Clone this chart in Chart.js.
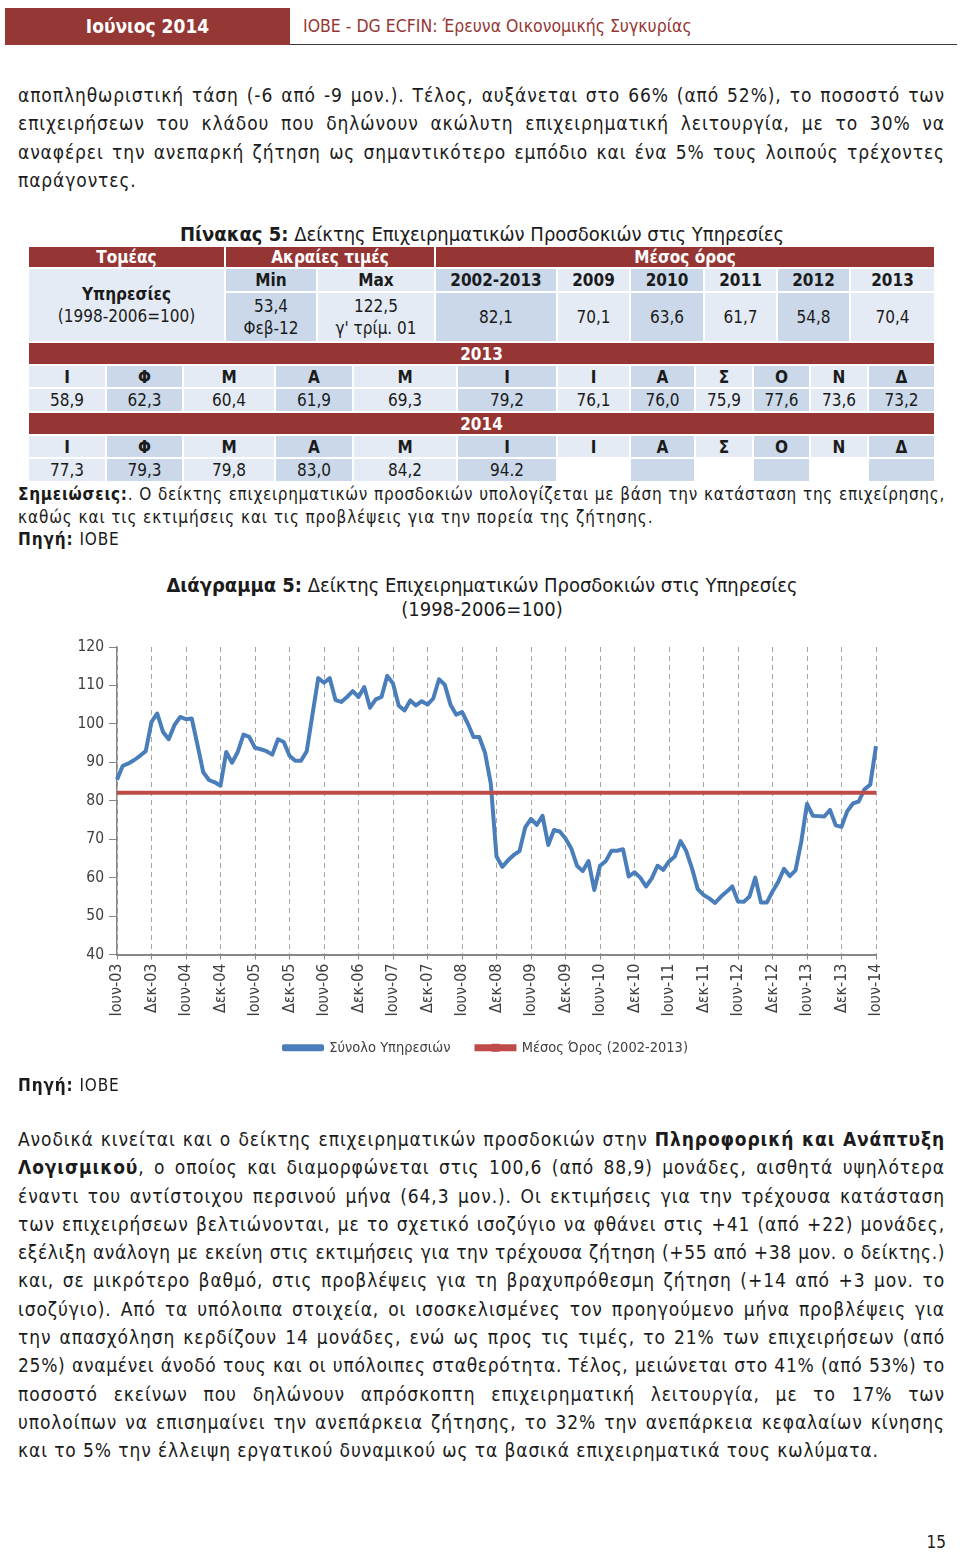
<!DOCTYPE html>
<html>
<head>
<meta charset="utf-8">
<script src="https://cdn.jsdelivr.net/npm/chart.js@4.4.1/dist/chart.umd.min.js"></script>
<style>
  body { margin: 0; background: #fff; }
  #page { position: relative; width: 960px; height: 1553px; overflow: hidden;
    font-family: "DejaVu Sans Condensed", "DejaVu Sans", sans-serif; color: #1b1b1b; }
  .abs { position: absolute; }
  .hdr { left: 5px; top: 8px; width: 285px; height: 37px; background: #953735; color: #fff;
    font-size: 19px; font-weight: bold; line-height: 37px; text-align: center; }
  .hdr2 { left: 303px; top: 8px; line-height: 37px; color: #953735; font-size: 17.5px; }
  .rule { left: 290px; top: 44px; width: 667px; height: 1px; background: #3a3a3a; }
  .para { left: 18px; width: 927px; font-size: 19px; line-height: 28.3px; }
  .line { text-align: justify; text-align-last: justify; letter-spacing: 0.9px; }
  .last { text-align: left; text-align-last: left; }
  .note { left: 18px; width: 927px; font-size: 17px; line-height: 22.5px; }
  .cell { position: absolute; box-sizing: border-box; border: 1px solid #fff; display: flex;
    align-items: center; justify-content: center; text-align: center; font-size: 17px; line-height: 22px; }
  .red { background: #963634; color: #fff; font-weight: bold; }
  .lt { background: #e4ebf5; }
  .dk { background: #cad8ea; }
  .wh { background: #fff; }
  .b { font-weight: bold; }
</style>
</head>
<body>
<div id="page">
  <div class="abs hdr">Ιούνιος 2014</div>
  <div class="abs hdr2">ΙΟΒΕ - DG ECFIN: Έρευνα Οικονομικής Συγκυρίας</div>
  <div class="abs rule"></div>

  <div class="abs para" style="top:81px">
    <div class="line">αποπληθωριστική τάση (-6 από -9 μον.). Τέλος, αυξάνεται στο 66% (από 52%), το ποσοστό των</div>
    <div class="line">επιχειρήσεων του κλάδου που δηλώνουν ακώλυτη επιχειρηματική λειτουργία, με το 30% να</div>
    <div class="line">αναφέρει την ανεπαρκή ζήτηση ως σημαντικότερο εμπόδιο και ένα 5% τους λοιπούς τρέχοντες</div>
    <div class="line last">παράγοντες.</div>
  </div>

  <div class="abs" style="left:0;top:222px;width:964px;text-align:center;font-size:20px;line-height:24px">
    <b>Πίνακας 5:</b> Δείκτης Επιχειρηματικών Προσδοκιών στις Υπηρεσίες</div>
  <div id="table"></div>

  <div class="abs note" style="top:483px">
    <div class="line"><b>Σημειώσεις:</b>. Ο δείκτης επιχειρηματικών προσδοκιών υπολογίζεται με βάση την κατάσταση της επιχείρησης,</div>
    <div class="line last">καθώς και τις εκτιμήσεις και τις προβλέψεις για την πορεία της ζήτησης.</div>
    <div class="line last"><b>Πηγή:</b> ΙΟΒΕ</div>
  </div>

  <div class="abs" style="left:0;top:573px;width:964px;text-align:center;font-size:20px;line-height:24px">
    <b>Διάγραμμα 5:</b> Δείκτης Επιχειρηματικών Προσδοκιών στις Υπηρεσίες<br>(1998-2006=100)</div>
  <div class="abs" style="left:0;top:630px;width:960px;height:449px"><canvas id="chart"></canvas></div>

  <div class="abs note" style="top:1074px"><div class="line last"><b>Πηγή:</b> ΙΟΒΕ</div></div>

  <div class="abs para" style="top:1125px">
    <div class="line">Ανοδικά κινείται και ο δείκτης επιχειρηματικών προσδοκιών στην <b>Πληροφορική και Ανάπτυξη</b></div>
    <div class="line"><b>Λογισμικού</b>, ο οποίος και διαμορφώνεται στις 100,6 (από 88,9) μονάδες, αισθητά υψηλότερα</div>
    <div class="line">έναντι του αντίστοιχου περσινού μήνα (64,3 μον.). Οι εκτιμήσεις για την τρέχουσα κατάσταση</div>
    <div class="line">των επιχειρήσεων βελτιώνονται, με το σχετικό ισοζύγιο να φθάνει στις +41 (από +22) μονάδες,</div>
    <div class="line">εξέλιξη ανάλογη με εκείνη στις εκτιμήσεις για την τρέχουσα ζήτηση (+55 από +38 μον. ο δείκτης.)</div>
    <div class="line">και, σε μικρότερο βαθμό, στις προβλέψεις για τη βραχυπρόθεσμη ζήτηση (+14 από +3 μον. το</div>
    <div class="line">ισοζύγιο). Από τα υπόλοιπα στοιχεία, οι ισοσκελισμένες τον προηγούμενο μήνα προβλέψεις για</div>
    <div class="line">την απασχόληση κερδίζουν 14 μονάδες, ενώ ως προς τις τιμές, το 21% των επιχειρήσεων (από</div>
    <div class="line">25%) αναμένει άνοδό τους και οι υπόλοιπες σταθερότητα. Τέλος, μειώνεται στο 41% (από 53%) το</div>
    <div class="line">ποσοστό εκείνων που δηλώνουν απρόσκοπτη επιχειρηματική λειτουργία, με το 17% των</div>
    <div class="line">υπολοίπων να επισημαίνει την ανεπάρκεια ζήτησης, το 32% την ανεπάρκεια κεφαλαίων κίνησης</div>
    <div class="line last">και το 5% την έλλειψη εργατικού δυναμικού ως τα βασικά επιχειρηματικά τους κωλύματα.</div>
  </div>

  <div class="abs" style="left:900px;top:1532px;width:46px;text-align:right;font-size:17px">15</div>
</div>

<script>
// δεδομένα διαγράμματος: Σύνολο Υπηρεσιών, μηνιαία (Ιουν-03 ... Ιουν-14)
const services2003 = [85.5, 89.1, 89.7, 90.6, 91.7, 92.9, 100.5];
const services2004 = [102.7, 97.9, 96.0, 99.7, 101.8, 101.2, 101.4, 94.5, 87.4, 85.4, 84.8, 83.9];
const services2005 = [92.7, 89.9, 92.7, 97.2, 96.6, 93.8, 93.4, 92.9, 92.0, 96.0, 95.3, 91.7];
const services2006 = [90.4, 90.4, 92.9, 102.5, 111.9, 110.7, 111.9, 106.2, 105.7, 107.0, 108.5, 107.0];
const services2007 = [109.6, 104.2, 106.4, 107.0, 112.5, 110.5, 104.7, 103.5, 106.1, 104.8, 105.9, 105.0];
const services2008 = [106.6, 111.6, 110.2, 105.0, 102.4, 103.1, 100.1, 96.6, 96.6, 92.5, 84.5, 65.5];
const services2009 = [62.8, 64.5, 65.9, 66.9, 73.1, 75.3, 73.7, 76.1, 68.5, 72.4, 72.0, 70.2];
const services2010 = [67.6, 63.1, 61.7, 64.3, 56.8, 63.1, 64.3, 67.0, 67.0, 67.4, 60.3, 61.4];
const services2011 = [60.0, 57.7, 59.8, 63.1, 62.0, 64.2, 65.5, 69.5, 66.9, 62.4, 57.0, 55.5];
const services2012 = [54.6, 53.4, 55.0, 56.3, 57.7, 53.8, 53.7, 55.1, 60.0, 53.5, 53.5, 56.4];
const services2013 = [58.9, 62.3, 60.4, 61.9, 69.3, 79.2, 76.1, 76.0, 75.9, 77.6, 73.6, 73.2];
const services2014 = [77.3, 79.3, 79.8, 83.0, 84.2, 94.2];

const longTermAverage = 82.1; // Μέσος Όρος (2002-2013)

// ετικέτες άξονα x (κάθε 6 μήνες)
const tickLabels = ["Ιουν-03", "Δεκ-03", "Ιουν-04", "Δεκ-04", "Ιουν-05", "Δεκ-05", "Ιουν-06", "Δεκ-06",
  "Ιουν-07", "Δεκ-07", "Ιουν-08", "Δεκ-08", "Ιουν-09", "Δεκ-09", "Ιουν-10", "Δεκ-10", "Ιουν-11",
  "Δεκ-11", "Ιουν-12", "Δεκ-12", "Ιουν-13", "Δεκ-13", "Ιουν-14"];

const seriesLabels = ["Σύνολο Υπηρεσιών", "Μέσος Όρος (2002-2013)"];

const servicesIndex = [].concat(services2003, services2004, services2005, services2006, services2007,
  services2008, services2009, services2010, services2011, services2012, services2013, services2014);
const categories = servicesIndex.map((_, i) => (i % 6 === 0 ? tickLabels[i / 6] : ""));
const averageLine = servicesIndex.map(() => longTermAverage);

//πίνακας
const cells = [];
const addCell = (x1, x2, y1, y2, html, cls) => cells.push({ x1, x2, y1, y2, html, cls });

addCell(28, 225, 246, 268, "Τομέας", "red");
addCell(225, 435, 246, 268, "Ακραίες τιμές", "red");
addCell(435, 935, 246, 268, "Μέσος όρος", "red");
addCell(28, 225, 268, 342, "<div><b>Υπηρεσίες</b><br>(1998-2006=100)</div>", "lt");

const headCols = [[225, 317, "Min", "53,4<br>Φεβ-12", "dk"], [317, 435, "Max", "122,5<br>γ' τρίμ. 01", "lt"],
  [435, 557, "2002-2013", "82,1", "dk"], [557, 630, "2009", "70,1", "lt"], [630, 704, "2010", "63,6", "dk"],
  [704, 777, "2011", "61,7", "lt"], [777, 850, "2012", "54,8", "dk"], [850, 935, "2013", "70,4", "lt"]];
headCols.forEach(([x1, x2, h, v, c]) => {
  addCell(x1, x2, 268, 292, h, c + " b");
  addCell(x1, x2, 292, 342, "<div>" + v + "</div>", c);
});

const monthEdges = [28, 106, 183, 275, 353, 457, 557, 630, 695, 753, 810, 868, 935];
const monthNames = ["Ι", "Φ", "Μ", "Α", "Μ", "Ι", "Ι", "Α", "Σ", "Ο", "Ν", "Δ"];
const table2013 = ["58,9", "62,3", "60,4", "61,9", "69,3", "79,2", "76,1", "76,0", "75,9", "77,6", "73,6", "73,2"];
const table2014 = ["77,3", "79,3", "79,8", "83,0", "84,2", "94.2", "", "", "", "", "", ""];

const yearBlock = (year, top, values) => {
  addCell(28, 935, top, top + 23, year, "red");
  monthNames.forEach((m, i) => {
    const c = i % 2 === 0 ? "lt" : "dk";
    addCell(monthEdges[i], monthEdges[i + 1], top + 23, top + 46, m, c + " b");
    const vc = values[i] === "" && c === "lt" ? "wh" : c;
    addCell(monthEdges[i], monthEdges[i + 1], top + 46, top + 70, values[i], vc);
  });
};
yearBlock("2013", 342, table2013);
yearBlock("2014", 412, table2014);

document.getElementById("table").innerHTML = cells.map(c =>
  `<div class="cell ${c.cls}" style="left:${c.x1}px;top:${c.y1}px;width:${c.x2 - c.x1}px;height:${c.y2 - c.y1}px">${c.html}</div>`
).join("");

// κάθε γραμμή κειμένου σε μία γραμμή: πρώτα μειώνουμε το letter-spacing, μετά το μέγεθος
document.querySelectorAll(".line").forEach(el => {
  const lh = parseFloat(getComputedStyle(el).lineHeight);
  const wraps = () => el.getBoundingClientRect().height > lh * 1.4;
  let ls = 0.9;
  while (wraps() && ls > -0.6) {
    ls -= 0.1;
    el.style.letterSpacing = ls + "px";
  }
  let fs = parseFloat(getComputedStyle(el).fontSize);
  while (wraps() && fs > 10) {
    fs -= 0.25;
    el.style.fontSize = fs + "px";
  }
});

//γράφημα
const FONT = "'DejaVu Sans Condensed', 'DejaVu Sans', sans-serif";
Chart.defaults.font.family = FONT;
Chart.defaults.color = "#404040";

// το υπόμνημα λίγο δεξιότερα και ψηλότερα, όπως στο πρωτότυπο
const legendShift = {
  id: "legendShift",
  afterLayout(chart) {
    chart.legend.left += 18;
    chart.legend.right += 18;
    chart.legend.top -= 10;
    chart.legend.bottom -= 10;
  },
};

const legendMarker = {
  id: "legendMarker",
  afterDraw(chart) {
    const box = chart.legend.legendHitBoxes[1];
    if (!box) return;
    const ctx = chart.ctx;
    const cx = box.left + 19;
    const cy = box.top + box.height / 2;
    ctx.save();
    ctx.fillStyle = "#be4b48";
    ctx.fillRect(cx - 4, cy - 4, 8, 8);
    ctx.restore();
  },
};

new Chart(document.getElementById("chart"), {
  type: "line",
  data: {
    labels: categories,
    datasets: [
      {
        label: seriesLabels[0],
        data: servicesIndex,
        borderColor: "#4a7ebb",
        backgroundColor: "#4a7ebb",
        borderWidth: 4,
        pointRadius: 0,
        tension: 0,
        borderJoinStyle: "round",
        order: 1,
      },
      {
        label: seriesLabels[1],
        data: averageLine,
        borderColor: "#be4b48",
        backgroundColor: "#be4b48",
        borderWidth: 4,
        pointRadius: 0,
        order: 0,
      },
    ],
  },
  options: {
    responsive: true,
    maintainAspectRatio: false,
    animation: false,
    events: [],
    layout: { padding: { left: 60, right: 84, top: 17, bottom: 4 } },
    plugins: {
      tooltip: { enabled: false },
      legend: {
        position: "bottom",
        labels: {
          boxWidth: 38,
          boxHeight: 3,
          padding: 26,
          font: { size: 14.5 },
          color: "#404040",
          sort: (a, b) => a.datasetIndex - b.datasetIndex,
        },
      },
    },
    scales: {
      x: {
        afterFit: (scale) => { scale.height = 70; },
        grid: {
          color: "#a6a6a6",
          lineWidth: 1,
          tickLength: 5,
          tickColor: "#868686",
          tickBorderDash: [],
        },
        border: { color: "#868686", width: 2, dash: [5, 4] },
        ticks: {
          autoSkip: false,
          minRotation: 90,
          maxRotation: 90,
          padding: 4,
          font: { size: 16 },
          callback: (val, idx) => (idx % 6 === 0 ? tickLabels[idx / 6] : null),
        },
      },
      y: {
        min: 40,
        max: 120,
        afterFit: (scale) => { scale.width = 57; },
        grid: { drawOnChartArea: false, drawTicks: true, tickLength: 8, tickColor: "#868686" },
        border: { color: "#868686", width: 1.5 },
        ticks: { stepSize: 10, padding: 5, font: { size: 15.5 } },
      },
    },
  },
  plugins: [legendShift, legendMarker],
});
</script>
</body>
</html>
